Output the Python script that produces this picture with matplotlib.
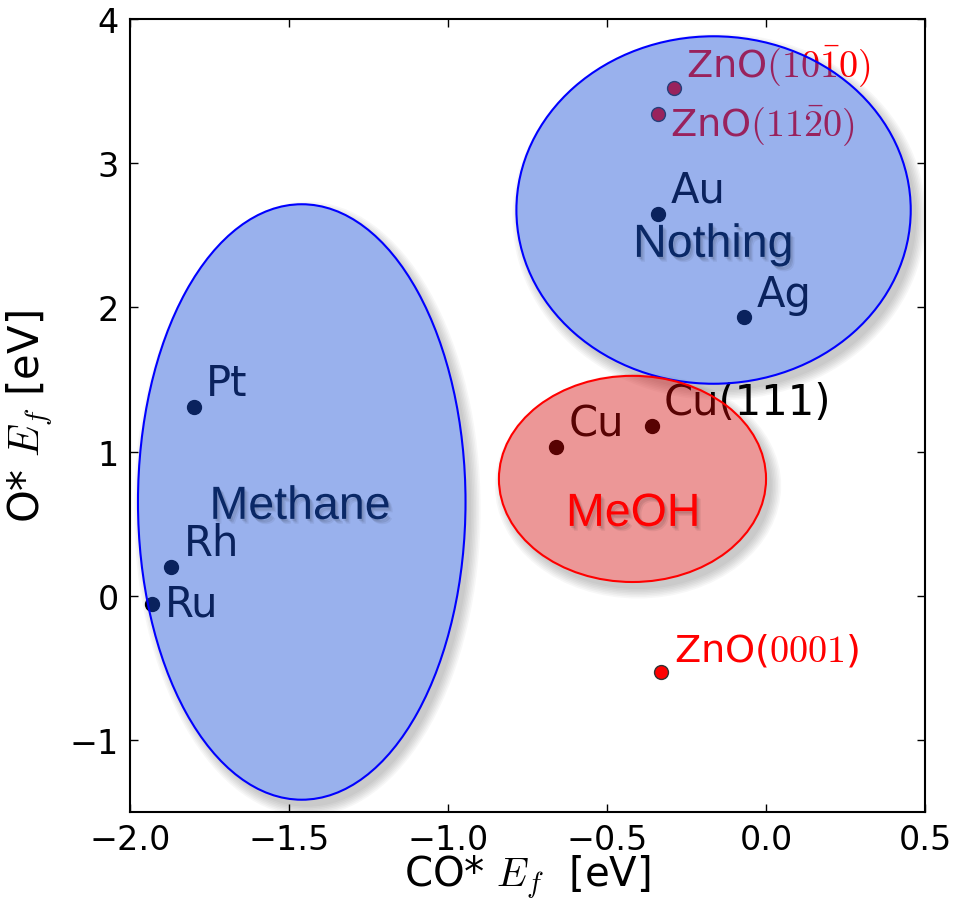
import numpy as np
import matplotlib
matplotlib.use("Agg")
import matplotlib.pyplot as plt
from matplotlib.patches import Ellipse
from matplotlib.path import Path
import matplotlib.patheffects as pe
from matplotlib.transforms import ScaledTranslation

plt.rcParams['mathtext.fontset'] = 'cm'
plt.rcParams['font.family'] = ['DejaVu Sans']

# Formation energies of CO* and O* on metal surfaces [eV]
metals = ['Pt', 'Rh', 'Ru', 'Au', 'Ag', 'Cu', 'Cu(111)']
metal_co = [-1.80, -1.87, -1.93, -0.34, -0.07, -0.66, -0.36]
metal_o = [1.31, 0.20, -0.06, 2.65, 1.93, 1.03, 1.18]

# ZnO facets
oxides = [r'ZnO$(10\bar{1}0)$', r'ZnO$(11\bar{2}0)$', r'ZnO($0001$)']
oxide_co = [-0.29, -0.34, -0.33]
oxide_o = [3.52, 3.34, -0.53]

# Product regions (ellipses)
regions = ['Methane', 'Nothing', 'MeOH']
region_co = [-1.46, -0.165, -0.42]
region_o = [0.65, 2.675, 0.81]
region_w = [1.03, 1.24, 0.84]
region_h = [4.13, 2.41, 1.43]

xticks = [-2.0, -1.5, -1.0, -0.5, 0.0, 0.5]
yticks = [-1, 0, 1, 2, 3, 4]

fig = plt.figure(figsize=(9.66, 9.04), dpi=100)
ax = fig.add_axes([0.1346, 0.1007, 0.823, 0.8772])
ax.set_xlim(-2.0, 0.5)
ax.set_ylim(-1.5, 4.0)

# label offsets (points) for each point label
metal_off = {'Ru': (9, -8)}
oxide_off = {1: (9, -15)}

ax.plot(metal_co, metal_o, 'o', color='k', ms=10, zorder=1)
for name, x, y in zip(metals, metal_co, metal_o):
    ax.annotate(name, (x, y), xytext=metal_off.get(name, (9, 8.5)),
                textcoords='offset points', fontsize=30, color='k',
                ha='left', va='baseline', zorder=1)

ax.plot(oxide_co, oxide_o, 'o', mfc='red', mec='#333333', mew=1.0, ms=10, zorder=1)
for i, (name, x, y) in enumerate(zip(oxides, oxide_co, oxide_o)):
    ax.annotate(name, (x, y), xytext=oxide_off.get(i, (9, 8.5)),
                textcoords='offset points', fontsize=27.5, color='red',
                ha='left', va='baseline', zorder=1)

styles = {
    'Methane': dict(face=(0.09, 0.31, 0.84, 0.44), edge='blue'),
    'Nothing': dict(face=(0.09, 0.31, 0.84, 0.44), edge='blue'),
    'MeOH': dict(face=(0.83, 0.03, 0.03, 0.42), edge='red'),
}

x0, x1 = ax.get_xlim()
y0, y1 = ax.get_ylim()
rect = Path([(x0, y0), (x1, y0), (x1, y1), (x0, y1), (x0, y0)], closed=True)
shadow_tr = ax.transData + ScaledTranslation(4 / 72, -5 / 72, fig.dpi_scale_trans)

for name, cx, cy, w, h in zip(regions, region_co, region_o, region_w, region_h):
    st = styles[name]
    # soft shadow outside the ellipse
    t = np.linspace(0, 2 * np.pi, 361)
    ex = cx + 0.5 * w * np.cos(t)
    ey = cy + 0.5 * h * np.sin(t)
    hole = Path(np.column_stack([ex[::-1], ey[::-1]]), closed=True)
    outside = Path.make_compound_path(rect, hole)
    for k in range(7):
        gw = k * 1.6 * 2 / 318.0
        gh = k * 1.6 * 2 / 144.2
        sh = Ellipse((cx, cy), w + gw, h + gh, transform=shadow_tr,
                     facecolor='k', alpha=0.03, lw=0, zorder=2.5)
        ax.add_patch(sh)
        sh.set_clip_path(outside, ax.transData)
    ell = Ellipse((cx, cy), w, h, facecolor=st['face'], edgecolor=st['edge'],
                  lw=1.5, zorder=3)
    ax.add_patch(ell)

text_shadow = [pe.SimplePatchShadow(offset=(1, -1.5), shadow_rgbFace='k', alpha=0.08),
               pe.SimplePatchShadow(offset=(2, -2.5), shadow_rgbFace='k', alpha=0.08),
               pe.SimplePatchShadow(offset=(3, -3.5), shadow_rgbFace='k', alpha=0.06),
               pe.Normal()]
region_label_pos = {'Methane': (-1.75, 0.533), 'Nothing': (-0.418, 2.35), 'MeOH': (-0.629, 0.484)}
region_label_color = {'Methane': '#0a2866', 'Nothing': '#0a2866', 'MeOH': 'red'}
for name in regions:
    lx, ly = region_label_pos[name]
    ax.text(lx, ly, name, fontsize=33.5, family='Liberation Sans',
            color=region_label_color[name], ha='left', va='baseline',
            zorder=4, path_effects=text_shadow)

ax.set_xticks(xticks)
ax.set_yticks(yticks)
ax.set_xticklabels(['\u22122.0', '\u22121.5', '\u22121.0', '\u22120.5', '0.0', '0.5'])
ax.set_yticklabels(['\u22121', '0', '1', '2', '3', '4'])
ax.tick_params(direction='in', length=6, width=1, top=True, right=True,
               labelsize=24, pad=8, colors='k')
for sp in ax.spines.values():
    sp.set_linewidth(1.5)

ax.set_xlabel(r'CO* $E_f$  [eV]', fontsize=29)
ax.xaxis.set_label_coords(0.5, -0.052)
ax.set_ylabel(r'O* $E_f$ [eV]', fontsize=30)
ax.yaxis.set_label_coords(-0.094, 0.5)

fig.savefig('out.png', dpi=100)
